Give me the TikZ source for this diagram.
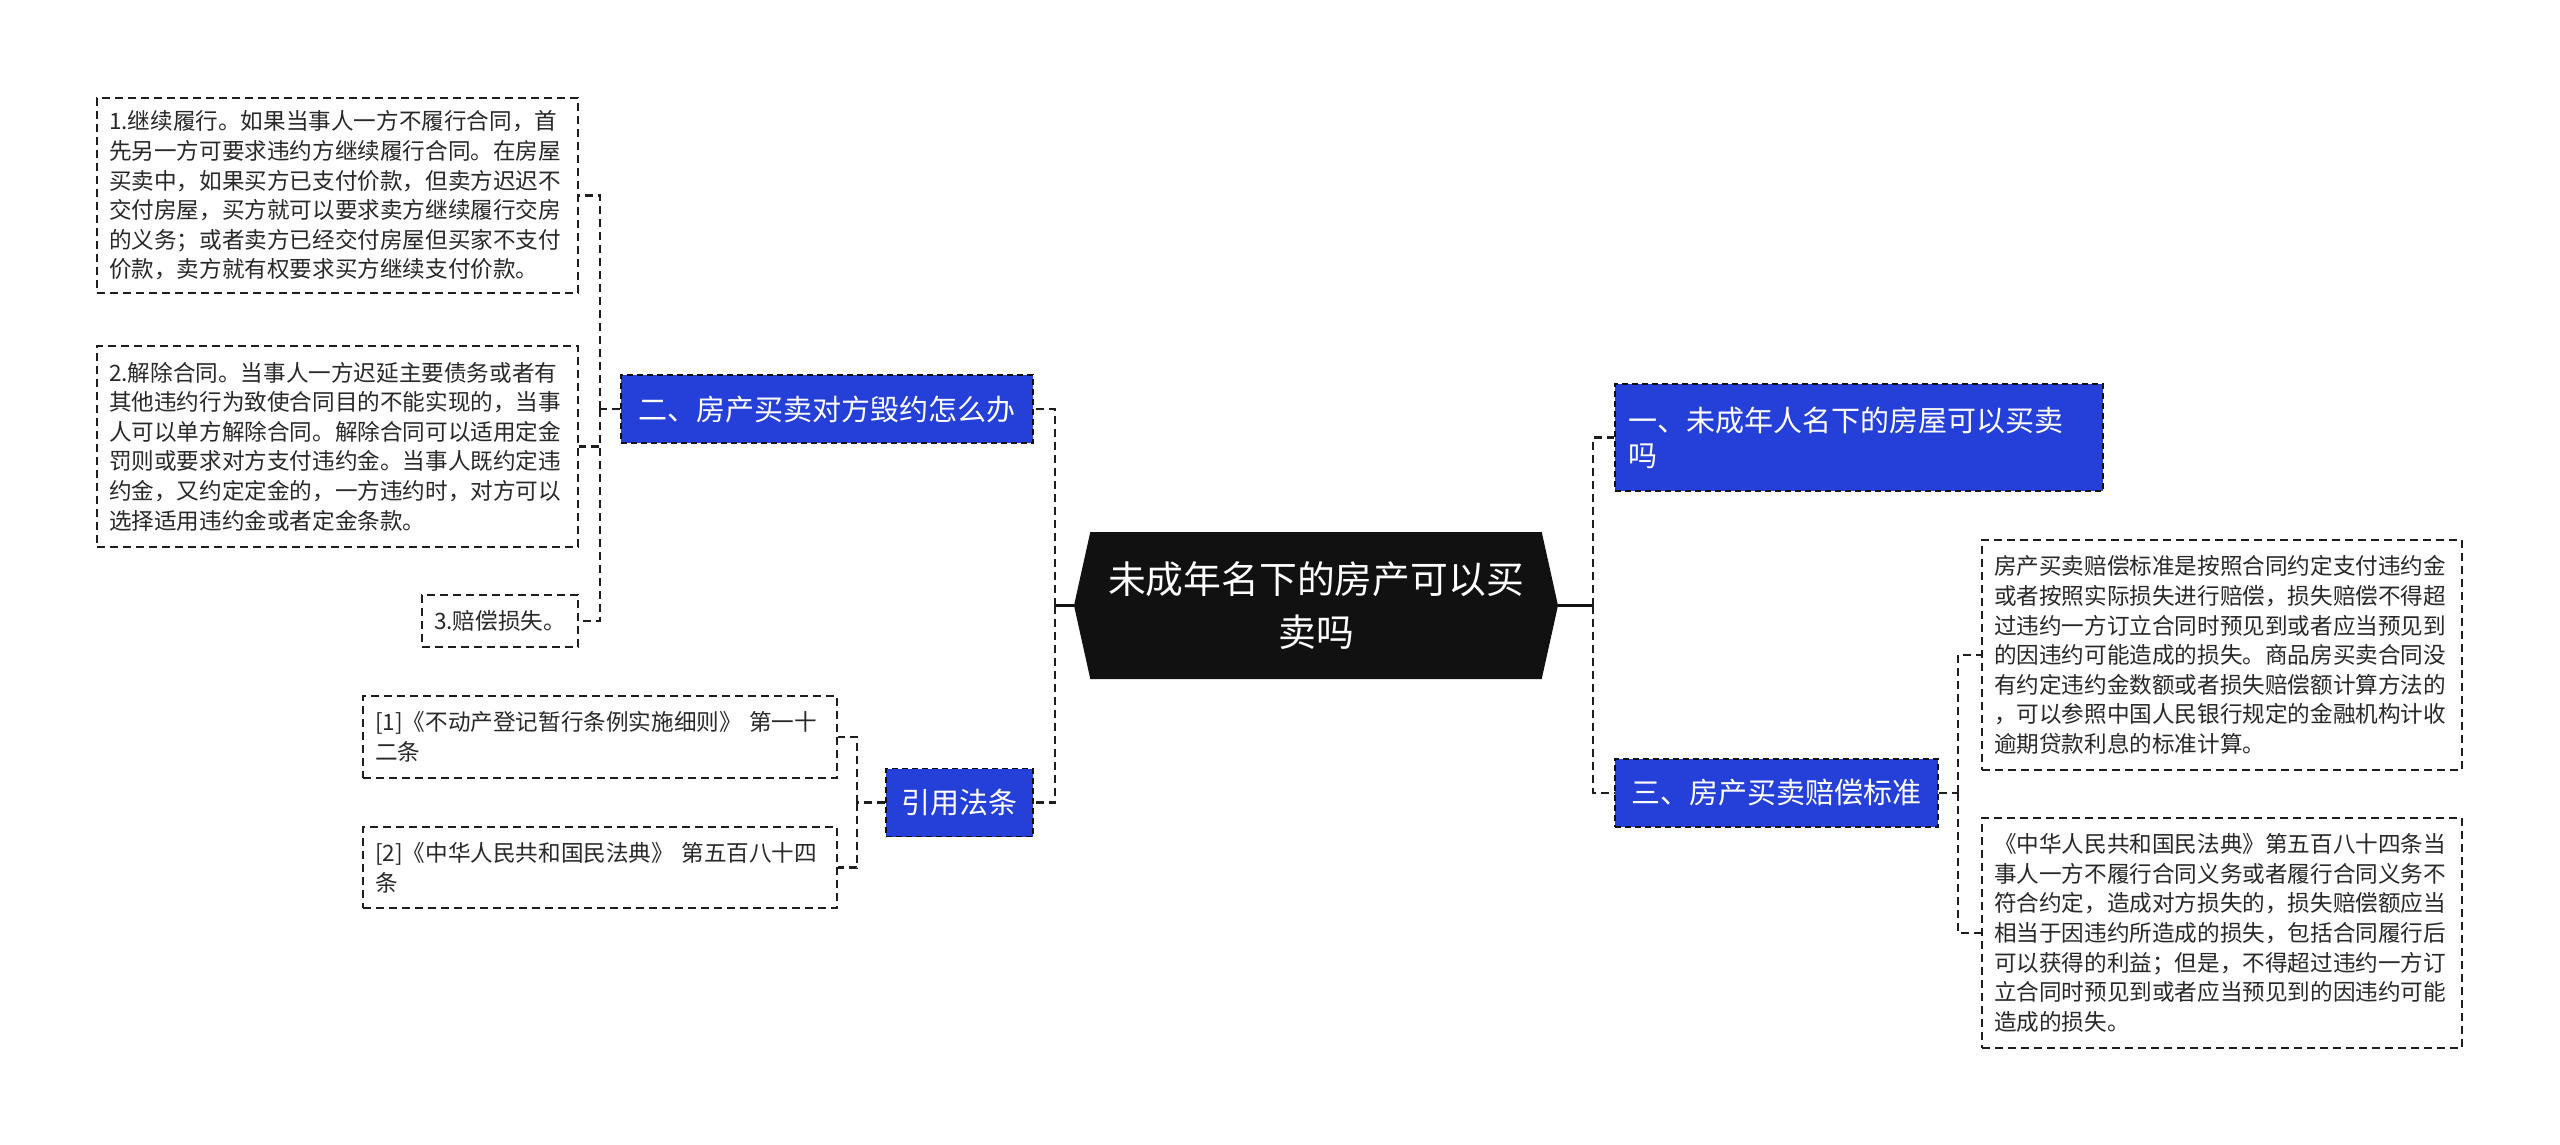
\documentclass[tikz,border=0pt]{standalone}
\usepackage{fontspec}
\setmainfont{Noto Sans CJK SC}
\usepackage{xcolor}
\usetikzlibrary{positioning,shapes.symbols}
\definecolor{MapBlue}{RGB}{37,64,217}
\definecolor{MapInk}{RGB}{17,17,17}
\definecolor{MapLine}{RGB}{30,30,30}
\definecolor{MapText}{RGB}{40,40,40}

\begin{document}
\begin{tikzpicture}[
x=0.5pt, y=-0.5pt,
topic/.style={
signal,
signal to=west and east,
signal pointer angle=155,
fill=MapInk,
text=white,
align=center,
minimum width=242pt,
minimum height=73.5pt,
inner sep=0pt,
font=\fontsize{18.9}{26.5}\selectfont
},
branch/.style={
draw=MapInk,
dashed,
dash pattern=on 3pt off 2pt,
line width=0.7pt,
fill=MapBlue,
text=white,
minimum height=34pt,
inner sep=0pt,
font=\fontsize{14.5}{17.5}\selectfont
},
leaf/.style={
draw=MapLine,
dash pattern=on 4pt off 2.5pt,
line width=0.7pt,
fill=white,
text=MapText,
align=left,
inner xsep=6pt,
inner ysep=0pt,
font=\fontsize{11.3}{14.8}\selectfont
},
link/.style={
draw=MapLine,
line width=1.1pt,
dash pattern=on 4pt off 2.5pt
},
stub/.style={
draw=MapInk,
line width=1.1pt
}
]
\useasboundingbox (0,0) rectangle (2560,1145);

\node[topic] (root) at (1316,605.5) {未成年名下的房产可以买\\卖吗};

\node[branch, minimum width=244pt, text width=231pt, align=left, inner xsep=6.5pt, minimum height=53.5pt] (one) at (1859,437.5) {一、未成年人名下的房屋可以买卖\\吗};
\node[branch, minimum width=206pt] (two) at (827,409) {二、房产买卖对方毁约怎么办};
\node[branch, minimum width=161.5pt] (three) at (1776.5,793) {三、房产买卖赔偿标准};
\node[branch, minimum width=73.5pt] (laws) at (959.5,802.5) {引用法条};

\node[leaf, text width=228.5pt, minimum height=97.5pt] (perform) at (337.5,195.5) {1.继续履行。如果当事人一方不履行合同，首\\先另一方可要求违约方继续履行合同。在房屋\\买卖中，如果买方已支付价款，但卖方迟迟不\\交付房屋，买方就可以要求卖方继续履行交房\\的义务；或者卖方已经交付房屋但买家不支付\\价款，卖方就有权要求买方继续支付价款。};
\node[leaf, text width=228.5pt, minimum height=100.5pt] (cancel) at (337.5,446.5) {2.解除合同。当事人一方迟延主要债务或者有\\其他违约行为致使合同目的不能实现的，当事\\人可以单方解除合同。解除合同可以适用定金\\罚则或要求对方支付违约金。当事人既约定违\\约金，又约定定金的，一方违约时，对方可以\\选择适用违约金或者定金条款。};
\node[leaf, minimum width=78pt, minimum height=26pt, align=center] (repay) at (500,621) {3.赔偿损失。};

\node[leaf, text width=225pt, minimum height=41pt] (lawone) at (600,737) {[1]《不动产登记暂行条例实施细则》 第一十\\二条};
\node[leaf, text width=225pt, minimum height=40.5pt] (lawtwo) at (600,867.5) {[2]《中华人民共和国民法典》 第五百八十四\\条};

\node[leaf, text width=228pt, minimum height=115pt] (rule) at (2222,655) {房产买卖赔偿标准是按照合同约定支付违约金\\或者按照实际损失进行赔偿，损失赔偿不得超\\过违约一方订立合同时预见到或者应当预见到\\的因违约可能造成的损失。商品房买卖合同没\\有约定违约金数额或者损失赔偿额计算方法的\\，可以参照中国人民银行规定的金融机构计收\\逾期贷款利息的标准计算。};
\node[leaf, text width=228pt, minimum height=115pt] (code) at (2222,933) {《中华人民共和国民法典》第五百八十四条当\\事人一方不履行合同义务或者履行合同义务不\\符合约定，造成对方损失的，损失赔偿额应当\\相当于因违约所造成的损失，包括合同履行后\\可以获得的利益；但是，不得超过违约一方订\\立合同时预见到或者应当预见到的因违约可能\\造成的损失。};

\coordinate (jl) at (1055,605.5);
\coordinate (jr) at (1593,605.5);
\coordinate (jtwo) at (600,409);
\coordinate (jlaws) at (857,802.5);
\coordinate (jthree) at (1958,793);

% root to branches
\draw[stub] (root.west) -- (jl);
\draw[stub] (root.east) -- (jr);
\draw[link] (jl) |- (two.east);
\draw[link] (jl) |- (laws.east);
\draw[link] (jr) |- (one.west);
\draw[link] (jr) |- (three.west);

% branches to leaves
\draw[link] (two.west) -- (jtwo);
\draw[link] (jtwo) |- (perform.east);
\draw[link] (jtwo) |- (cancel.east);
\draw[link] (jtwo) |- (repay.east);
\draw[link] (laws.west) -- (jlaws);
\draw[link] (jlaws) |- (lawone.east);
\draw[link] (jlaws) |- (lawtwo.east);
\draw[link] (three.east) -- (jthree);
\draw[link] (jthree) |- (rule.west);
\draw[link] (jthree) |- (code.west);
\end{tikzpicture}
\end{document}
